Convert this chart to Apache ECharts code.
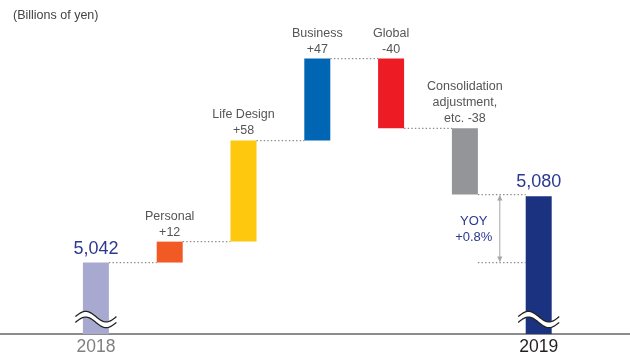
<!DOCTYPE html>
<html><head><meta charset="utf-8">
<script src="https://cdn.jsdelivr.net/npm/echarts@6/dist/echarts.min.js"></script>
<style>html,body{margin:0;padding:0;background:#fff}#c{width:630px;height:356px}</style>
</head><body><div id="c"></div>
<script>
const categories = ['2018','Personal','Life Design','Business','Global','Consolidation','2019'];
const tickLabels = ['2018','','','','','','2019'];
const startTotal = 5042;
const endTotal = 5080;
const changes = [12, 58, 47, -40, -38];
const changeLabels = ['Personal\n+12','Life Design\n+58','Business\n+47','Global\n-40','Consolidation\nadjustment,\netc. -38'];
const totalLabels = ['5,042','5,080'];
const yoyLabel = 'YOY\n+0.8%';
const unitLabel = '(Billions of yen)';
const barColors = ['#a7a9d0','#f15a24','#fec80f','#0066b3','#ed1c24','#939598','#1b3281'];
const axisFloor = 5001;   // broken axis floor
const axisTop = 5180;

const FONT = "'Liberation Sans', Arial, Helvetica, sans-serif";
const n = categories.length;

// build [index, low, high, level-after]
const items = [];
items.push([0, axisFloor, startTotal, startTotal]);
let run = startTotal;
changes.forEach((c, k) => {
  const s = run, e = run + c;
  items.push([k + 1, Math.min(s, e), Math.max(s, e), e]);
  run = e;
});
items.push([n - 1, axisFloor, endTotal, endTotal]);

const BW = 26;
const dotStyle = { stroke: '#8a8a8a', lineWidth: 1.2, lineDash: [1.4, 2.2] };

function wave(cx, cy) {
  const half = 20.5, amp = 5.3, gap = 5.8, N = 40;
  const up = [], lo = [];
  for (let j = 0; j <= N; j++) {
    const t = j / N;
    const x = cx - half + 2 * half * t;
    const d = -amp * Math.sin(2 * Math.PI * t);
    up.push([x, cy - gap / 2 + d]);
    lo.push([x, cy + gap / 2 + d]);
  }
  return [
    { type: 'polygon', shape: { points: up.concat(lo.slice().reverse()) }, style: { fill: '#fff' } },
    { type: 'polyline', shape: { points: up }, style: { stroke: '#222', lineWidth: 1.3, fill: null } },
    { type: 'polyline', shape: { points: lo }, style: { stroke: '#222', lineWidth: 1.3, fill: null } }
  ];
}

function renderItem(params, api) {
  const i = api.value(0), lo = api.value(1), hi = api.value(2), lvl = api.value(3);
  const pTop = api.coord([i, hi]);
  const pBot = api.coord([i, lo]);
  const x = pTop[0] - BW / 2;
  const ch = [];
  ch.push({ type: 'rect', shape: { x: x, y: pTop[1], width: BW, height: pBot[1] - pTop[1] }, style: { fill: barColors[i] } });
  if (i < n - 1) {
    const yL = api.coord([i, lvl])[1];
    const nx = api.coord([i + 1, lvl])[0] - BW / 2;
    ch.push({ type: 'line', shape: { x1: x + BW, y1: yL, x2: nx, y2: yL }, style: dotStyle });
  }
  if (i === 0 || i === n - 1) {
    ch.push.apply(ch, wave(pTop[0], pBot[1] - 14.5));
    ch.push({ type: 'text', style: { text: totalLabels[i === 0 ? 0 : 1], x: pTop[0], y: pTop[1] - 5,
      align: 'center', verticalAlign: 'bottom', fill: '#2b3990', fontSize: 18, fontFamily: FONT } });
  } else {
    ch.push({ type: 'text', style: { text: changeLabels[i - 1], x: pTop[0], y: pTop[1] - 1.5,
      align: 'center', verticalAlign: 'bottom', fill: '#555', fontSize: 12.5, lineHeight: 16, fontFamily: FONT } });
  }
  if (i === n - 1) {
    // YOY annotation between consolidation bar and final bar
    const leftEdge = api.coord([i - 1, startTotal])[0] + BW / 2;
    const rightEdge = x;
    const yBase = api.coord([i, startTotal])[1];
    const yPrev = api.coord([i, items[i - 1][3]])[1];
    ch.push({ type: 'line', shape: { x1: leftEdge, y1: yBase, x2: rightEdge, y2: yBase }, style: dotStyle });
    const ax = (leftEdge + rightEdge) / 2 - 2;
    ch.push({ type: 'line', shape: { x1: ax, y1: yPrev + 1, x2: ax, y2: yBase - 1 }, style: { stroke: '#a6a6a6', lineWidth: 1 } });
    ch.push({ type: 'polygon', shape: { points: [[ax, yPrev + 0.5], [ax - 2.6, yPrev + 6], [ax + 2.6, yPrev + 6]] }, style: { fill: '#a6a6a6' } });
    ch.push({ type: 'polygon', shape: { points: [[ax, yBase - 0.5], [ax - 2.6, yBase - 6], [ax + 2.6, yBase - 6]] }, style: { fill: '#a6a6a6' } });
    ch.push({ type: 'text', style: { text: yoyLabel, x: ax - 26, y: (yPrev + yBase) / 2 + 1,
      align: 'center', verticalAlign: 'middle', fill: '#2b3990', fontSize: 13, lineHeight: 16.5, fontFamily: FONT } });
  }
  return { type: 'group', children: ch };
}

const chart = echarts.init(document.getElementById('c'), null, { renderer: 'canvas' });
chart.setOption({
  animation: false,
  grid: { left: 59, right: 54.4, top: 22, bottom: 20 },
  xAxis: {
    type: 'category', data: categories,
    axisLine: { show: false }, axisTick: { show: false },
    axisLabel: {
      interval: 0, margin: 4,
      formatter: (v, idx) => idx === 0 ? '{a|' + tickLabels[idx] + '}' : (idx === n - 1 ? '{b|' + tickLabels[idx] + '}' : ''),
      rich: {
        a: { fontSize: 17.5, color: '#808080', fontFamily: FONT },
        b: { fontSize: 17.5, color: '#231f20', fontFamily: FONT }
      }
    }
  },
  yAxis: { type: 'value', min: axisFloor, max: axisTop, show: false, splitLine: { show: false } },
  series: [{
    type: 'custom', renderItem: renderItem, data: items,
    encode: { x: 0, y: [1, 2] }, clip: false
  }]
});
const yFloor = chart.convertToPixel({ yAxisIndex: 0 }, axisFloor);
chart.setOption({
  graphic: [
    { type: 'line', shape: { x1: 0, y1: yFloor, x2: chart.getWidth(), y2: yFloor }, style: { stroke: '#666', lineWidth: 1.5 }, z: 0 },
    { type: 'text', left: 13, top: 9, style: { text: unitLabel, fontSize: 12.5, fill: '#444', fontFamily: FONT } }
  ]
});
</script>
</body></html>
